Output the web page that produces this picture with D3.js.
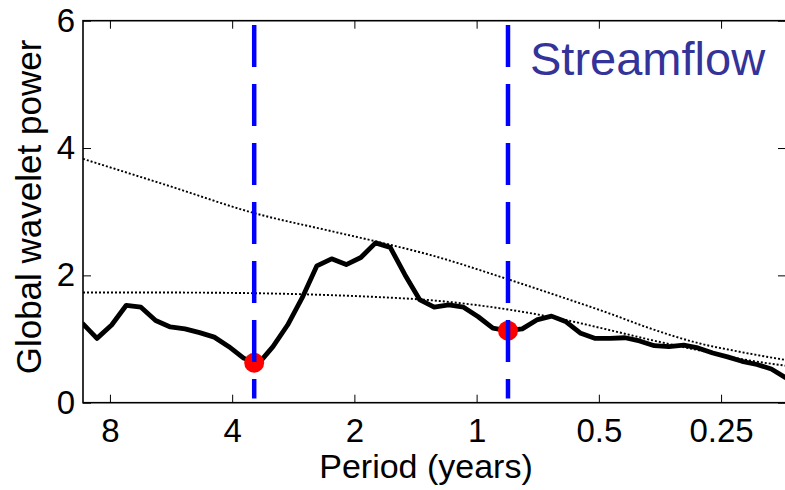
<!DOCTYPE html>
<html>
<head>
<meta charset="utf-8">
<script src="https://cdn.jsdelivr.net/npm/d3@7"></script>
<style>
    body { margin: 0; background: #fff; }
    text { font-family: "Liberation Sans", Arial, Helvetica, sans-serif; }
</style>
</head>
<body>
<div id="chart"></div>
<script>
"use strict";

//-----------------------------DATA-----------------------------//
// global wavelet spectrum (period in years, power)
const periods = [9.36, 8.61, 7.923, 7.291, 6.709, 6.174, 5.681, 5.228, 4.811, 4.427,
    4.074, 3.749, 3.450, 3.174, 2.921, 2.688, 2.474, 2.276, 2.095, 1.928,
    1.774, 1.632, 1.502, 1.382, 1.272, 1.171, 1.077, 0.991, 0.912, 0.839,
    0.772, 0.711, 0.654, 0.602, 0.554, 0.510, 0.469, 0.431, 0.397, 0.365,
    0.336, 0.309, 0.285, 0.262, 0.241, 0.222, 0.204, 0.188, 0.173];
const power = [1.25, 1.01, 1.22, 1.53, 1.50, 1.29, 1.19, 1.16, 1.10, 1.03,
    0.88, 0.70, 0.61, 0.88, 1.22, 1.65, 2.15, 2.26, 2.17, 2.28,
    2.51, 2.44, 2.01, 1.62, 1.50, 1.535, 1.50, 1.35, 1.17, 1.13,
    1.16, 1.30, 1.36, 1.27, 1.09, 1.01, 1.01, 1.02, 0.97, 0.895,
    0.88, 0.905, 0.86, 0.78, 0.72, 0.65, 0.60, 0.53, 0.39];

// significance curves (dotted)
const sigPeriods = [9.32, 5.69, 3.54, 2.30, 1.76, 1.30, 0.829, 0.625, 0.470, 0.375, 0.282, 0.225, 0.173];
const sigUpper = [3.83, 3.40, 2.98, 2.70, 2.53, 2.32, 1.93, 1.67, 1.40, 1.17, 0.93, 0.80, 0.67];
const sigLower = [1.73, 1.73, 1.72, 1.69, 1.66, 1.61, 1.46, 1.32, 1.14, 0.99, 0.82, 0.69, 0.58];

// marked minima (dashed verticals + red dots)
const markPeriods = [3.53, 0.837];
const markPower = [0.628, 1.131];

const xTicks = [8, 4, 2, 1, 0.5, 0.25];
const yTicks = [0, 2, 4, 6];
const title = "Streamflow";

//-----------------------------SVG------------------------------//
const width = 785;
const height = 490;
const plotLeft = 83, plotRight = 786, plotTop = 20.7, plotBottom = 402.7;

const svg = d3.select("#chart").append("svg")
    .attr("width", width)
    .attr("height", height);

svg.append("clipPath").attr("id", "plot-clip")
    .append("rect")
    .attr("x", plotLeft).attr("y", plotTop)
    .attr("width", plotRight - plotLeft).attr("height", plotBottom - plotTop);

//----------------------------SCALES----------------------------//
const xScale = d3.scaleLog().domain([9.32, 0.173]).range([plotLeft, plotRight]);
const yScale = d3.scaleLinear().domain([0, 6]).range([plotBottom, plotTop]);

//-----------------------------AXES-----------------------------//
const fmt = d => String(d);
const tickStyle = g => {
    g.select(".domain").remove();
    g.selectAll(".tick line").attr("stroke", "#000").attr("stroke-width", 1);
    g.selectAll(".tick text")
        .attr("fill", "#000")
        .style("font-size", "33px");
};

svg.append("g")
    .attr("transform", "translate(0," + plotBottom + ")")
    .call(d3.axisBottom(xScale).tickValues(xTicks).tickFormat(fmt).tickSize(-8).tickPadding(16))
    .call(tickStyle);

svg.append("g")
    .attr("transform", "translate(0," + plotTop + ")")
    .call(d3.axisTop(xScale).tickValues(xTicks).tickFormat("").tickSize(-8))
    .call(tickStyle);

svg.append("g")
    .attr("transform", "translate(" + plotLeft + ",0)")
    .call(d3.axisLeft(yScale).tickValues(yTicks).tickFormat(fmt).tickSize(-8).tickPadding(8))
    .call(tickStyle);

svg.append("g")
    .attr("transform", "translate(" + plotRight + ",0)")
    .call(d3.axisRight(yScale).tickValues(yTicks).tickFormat("").tickSize(-8))
    .call(tickStyle);

// box
svg.append("rect")
    .attr("x", plotLeft).attr("y", plotTop)
    .attr("width", plotRight - plotLeft).attr("height", plotBottom - plotTop)
    .attr("fill", "none")
    .attr("stroke", "#000")
    .attr("stroke-width", 1.6);

//----------------------------LINES-----------------------------//
const plot = svg.append("g").attr("clip-path", "url(#plot-clip)");

const sigLine = d3.line()
    .x(d => xScale(d[0]))
    .y(d => yScale(d[1]))
    .curve(d3.curveMonotoneX);

[sigUpper, sigLower].forEach(vals => {
    plot.append("path")
        .attr("d", sigLine(sigPeriods.map((p, i) => [p, vals[i]])))
        .attr("fill", "none")
        .attr("stroke", "#000")
        .attr("stroke-width", 1.9)
        .attr("stroke-dasharray", "2,2");
});

const line = d3.line()
    .x(d => xScale(d[0]))
    .y(d => yScale(d[1]));

plot.append("path")
    .attr("d", line(periods.map((p, i) => [p, power[i]])))
    .attr("fill", "none")
    .attr("stroke", "#000")
    .attr("stroke-width", 4.8)
    .attr("stroke-linejoin", "round");

// red dots, then dashed verticals drawn over them
plot.selectAll(".mark-dot")
    .data(markPeriods)
    .enter().append("circle")
    .attr("class", "mark-dot")
    .attr("cx", d => xScale(d))
    .attr("cy", (d, i) => yScale(markPower[i]))
    .attr("r", 10)
    .attr("fill", "#ff0000");

plot.selectAll(".mark-line")
    .data(markPeriods)
    .enter().append("line")
    .attr("class", "mark-line")
    .attr("x1", d => xScale(d)).attr("x2", d => xScale(d))
    .attr("y1", yScale(6) + 4.3).attr("y2", yScale(0) - 4.3)
    .attr("stroke", "#0000ff")
    .attr("stroke-width", 4.5)
    .attr("stroke-dasharray", "42,17");

//----------------------------LABELS----------------------------//
svg.append("text")
    .attr("x", 530)
    .attr("y", 75)
    .attr("fill", "#333399")
    .style("font-size", "47px")
    .text(title);

svg.append("text")
    .attr("x", 426)
    .attr("y", 478)
    .attr("text-anchor", "middle")
    .style("font-size", "34px")
    .text("Period (years)");

svg.append("text")
    .attr("transform", "translate(41,207) rotate(-90)")
    .attr("text-anchor", "middle")
    .style("font-size", "35px")
    .text("Global wavelet power");
</script>
</body>
</html>
